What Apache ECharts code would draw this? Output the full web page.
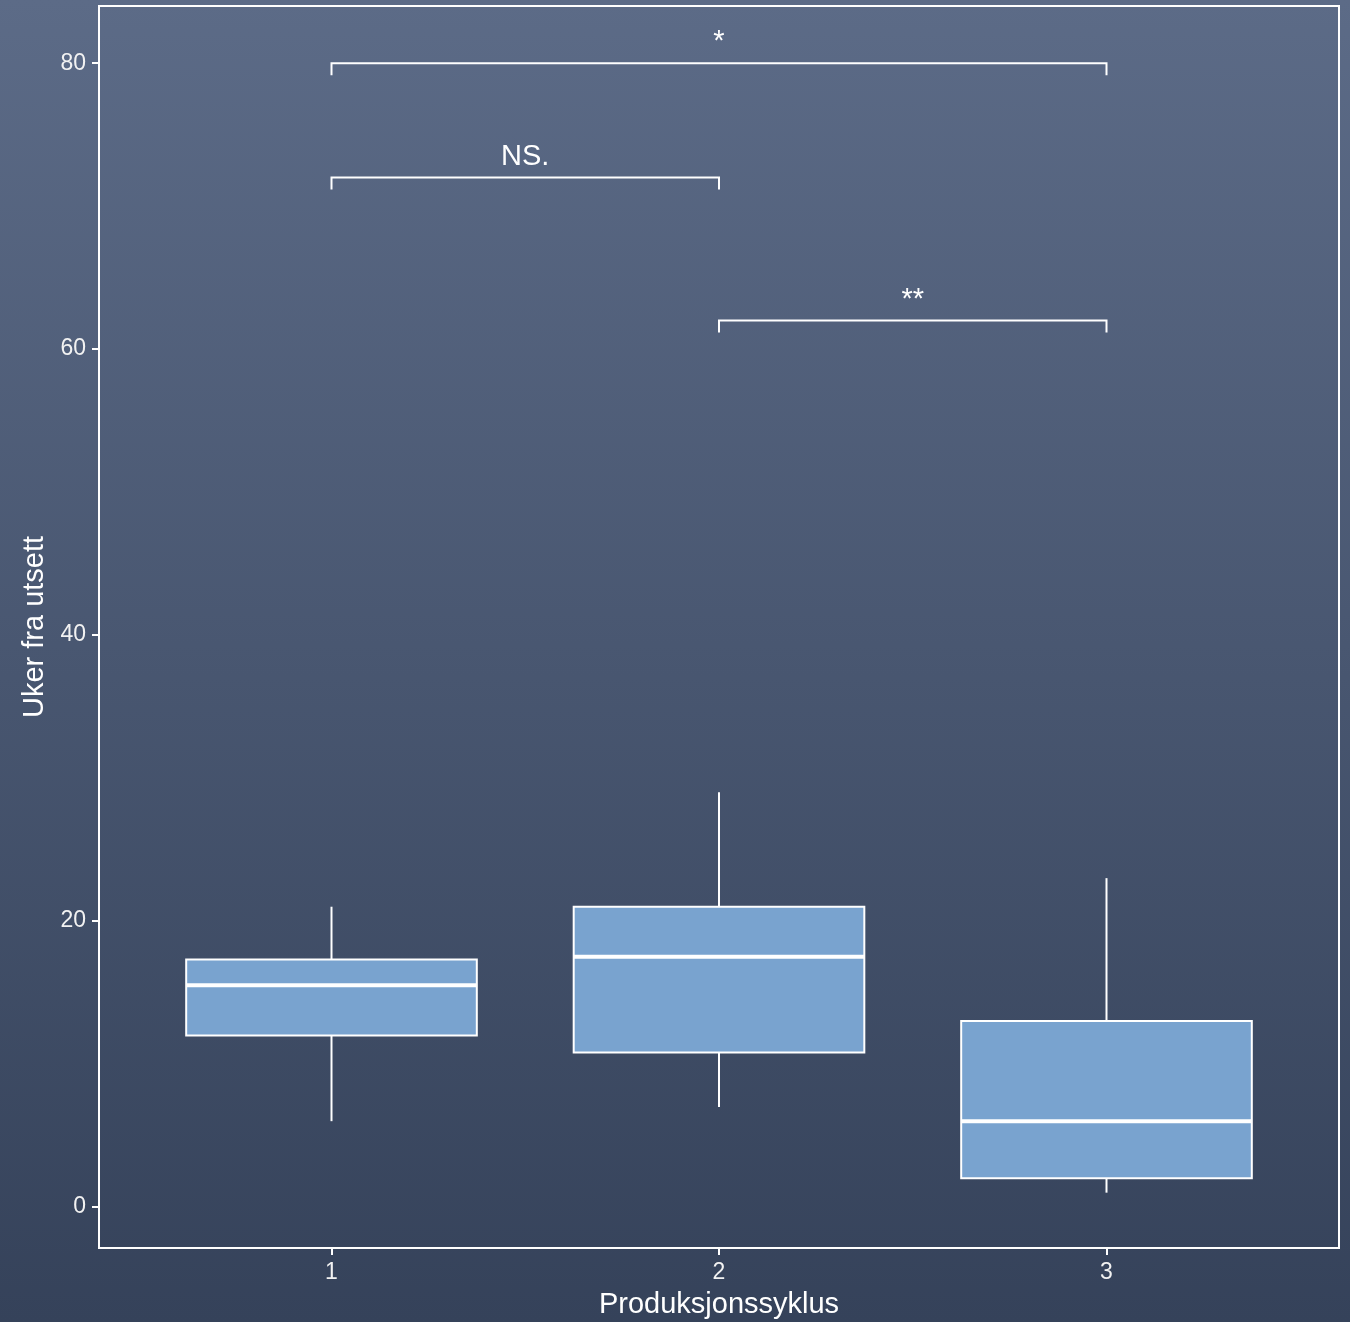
<!DOCTYPE html>
<html>
<head>
<meta charset="utf-8">
<script src="https://cdn.jsdelivr.net/npm/echarts@6/dist/echarts.min.js"></script>
<style>
html,body{margin:0;padding:0;}
#c{width:1350px;height:1322px;}
</style>
</head>
<body>
<div id="c"></div>
<script>
// ---- data ----
const categories = [1, 2, 3];
const whiskerLow  = [6.0, 7.0, 1.0];
const q1          = [12.0, 10.8, 2.0];
const median      = [15.5, 17.5, 6.0];
const q3          = [17.3, 21.0, 13.0];
const whiskerHigh = [21.0, 29.0, 23.0];
const yTicks = [0, 20, 40, 60, 80];
const bracketFrom  = [1, 1, 2];
const bracketTo    = [3, 2, 3];
const bracketY     = [80, 72, 62];
const bracketLabel = ['*', 'NS.', '**'];

const boxData = categories.map((c, i) => [c, whiskerLow[i], q1[i], median[i], q3[i], whiskerHigh[i]]);
const bracketData = bracketFrom.map((f, i) => [f, bracketTo[i], bracketY[i], i]);

const FONT = '"Liberation Sans", Arial, sans-serif';
const chart = echarts.init(document.getElementById('c'));
chart.setOption({
  backgroundColor: {
    type: 'linear', x: 0, y: 0, x2: 0, y2: 1,
    colorStops: [{offset: 0, color: '#5c6b87'}, {offset: 1, color: '#35425a'}]
  },
  animation: false,
  grid: {left: 99, right: 11, top: 6, bottom: 74, show: true, borderColor: '#ffffff', borderWidth: 2,
         backgroundColor: 'transparent', containLabel: false, outerBoundsMode: 'none'},
  xAxis: {
    type: 'value', min: 0.4, max: 3.6,
    name: 'Produksjonssyklus', nameLocation: 'middle', nameGap: 42,
    nameTextStyle: {color: '#ffffff', fontSize: 29, fontFamily: FONT},
    axisLine: {show: false, onZero: false},
    axisTick: {show: true, length: 7, lineStyle: {color: '#ffffff', width: 2}, customValues: categories},
    axisLabel: {color: '#f2f2f2', fontSize: 23, fontFamily: FONT, margin: 13, customValues: categories},
    splitLine: {show: false}
  },
  yAxis: {
    type: 'value', min: -2.87, max: 84.0,
    name: 'Uker fra utsett', nameLocation: 'middle', nameGap: 49,
    nameTextStyle: {color: '#ffffff', fontSize: 29, fontFamily: FONT},
    axisLine: {show: false, onZero: false},
    axisTick: {show: true, length: 7, lineStyle: {color: '#ffffff', width: 2}, customValues: yTicks},
    axisLabel: {color: '#f2f2f2', fontSize: 23, fontFamily: FONT, margin: 13, customValues: yTicks},
    splitLine: {show: false}
  },
  series: [
    {
      type: 'custom',
      data: boxData,
      encode: {x: 0, y: [1, 2, 3, 4, 5]},
      renderItem: function (params, api) {
        const x = api.value(0);
        const hw = 0.375;
        const lo = api.coord([x, api.value(1)]);
        const b1 = api.coord([x, api.value(2)]);
        const md = api.coord([x, api.value(3)]);
        const b3 = api.coord([x, api.value(4)]);
        const hi = api.coord([x, api.value(5)]);
        const left = api.coord([x - hw, 0])[0];
        const right = api.coord([x + hw, 0])[0];
        const ls = {stroke: '#ffffff', lineWidth: 2};
        return {
          type: 'group',
          children: [
            {type: 'line', shape: {x1: lo[0], y1: lo[1], x2: b1[0], y2: b1[1]}, style: ls},
            {type: 'line', shape: {x1: b3[0], y1: b3[1], x2: hi[0], y2: hi[1]}, style: ls},
            {type: 'rect', shape: {x: left, y: b3[1], width: right - left, height: b1[1] - b3[1]},
             style: {fill: '#79a3cf', stroke: '#ffffff', lineWidth: 2}},
            {type: 'line', shape: {x1: left, y1: md[1], x2: right, y2: md[1]}, style: {stroke: '#ffffff', lineWidth: 4}}
          ]
        };
      }
    },
    {
      type: 'custom',
      data: bracketData,
      encode: {x: [0, 1], y: 2},
      renderItem: function (params, api) {
        const a = api.coord([api.value(0), api.value(2)]);
        const b = api.coord([api.value(1), api.value(2)]);
        const drop = 12;
        const idx = api.value(3);
        return {
          type: 'group',
          children: [
            {type: 'polyline', shape: {points: [[a[0], a[1] + drop], [a[0], a[1]], [b[0], b[1]], [b[0], b[1] + drop]]},
             style: {stroke: '#ffffff', lineWidth: 2, fill: null}},
            {type: 'text', x: (a[0] + b[0]) / 2, y: a[1] - 21,
             style: {text: bracketLabel[idx], fill: '#ffffff', font: '29px ' + FONT, align: 'center', verticalAlign: 'middle'}}
          ]
        };
      }
    }
  ]
});
</script>
</body>
</html>
